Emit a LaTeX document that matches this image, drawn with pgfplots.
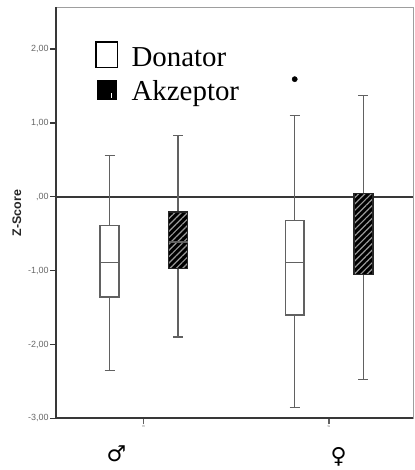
\documentclass[border=0pt]{standalone}
\usepackage{fontspec}
\setmainfont{Liberation Serif}
\setsansfont{Liberation Sans}
\newfontfamily\symfont{DejaVu Sans}
\usepackage{pgfplots}
\pgfplotsset{compat=1.18}
\usepgfplotslibrary{statistics}
\usetikzlibrary{patterns.meta}

\definecolor{axisdark}{gray}{0.22}
\definecolor{boxgray}{gray}{0.38}
\definecolor{hatchgray}{gray}{0.6}
\definecolor{framegray}{gray}{0.62}

\begin{document}
\begin{tikzpicture}[x=1pt,y=1pt]
\path (0,0) rectangle (416,470);
\begin{axis}[
    name=ax,
    at={(56pt,50pt)}, anchor=south west,
    width=358.7pt, height=412.5pt, scale only axis,
    xmin=0.527, xmax=2.455, ymin=-3, ymax=2.56,
    axis line style={framegray, line width=1pt},
    ytick={-3,-2,-1,0,1,2},
    yticklabels={{-3,00},{-2,00},{-1,00},{,00},{1,00},{2,00}},
    xtick={1,2}, xticklabels={m,w},
    ytick pos=left, xtick pos=bottom,
    tick align=outside,
    major tick length=6pt,
    y tick style={axisdark, line width=1.5pt},
    x tick style={boxgray, line width=1.5pt},
    yticklabel style={font=\sffamily\fontsize{9}{9}\selectfont, text=black!60, inner sep=1pt},
    xticklabel style={font=\sffamily\fontsize{3.5}{3.5}\selectfont, text=black!50, inner sep=1pt},
    ylabel={Z-Score},
    ylabel style={at={(axis description cs:-0.109,0.5)}, anchor=center,
                  font=\sffamily\bfseries\fontsize{12.5}{12.5}\selectfont, text=black!85},
    extra y ticks={0}, extra y tick labels={},
    extra y tick style={grid=major, major grid style={axisdark, line width=1.8pt},
                        major tick length=0pt},
    legend style={at={(0.109,0.919)}, anchor=north west, draw=none, fill=none,
                  inner sep=0pt, row sep=8pt,
                  font=\fontsize{29}{31}\selectfont},
    legend cell align=left,
    boxplot/draw direction=y,
    boxplot/box extend=0.102,
    boxplot/whisker extend=0.054,
]
\addlegendimage{legend image code/.code={\draw[black, line width=1.6pt, fill=white] (0pt,-9.5pt) rectangle (22pt,16.5pt);
    \path[draw=none, fill=none] (0pt,0pt) -- (34pt,0pt);}}
\addlegendentry{Donator}
\addlegendimage{legend image code/.code={\fill[black] (1pt,-8.6pt) rectangle (21pt,11.4pt);
    \draw[white, line width=0.8pt] (16pt,-6.6pt) -- (16pt,-1.6pt);
    \path[draw=none, fill=none] (0pt,0pt) -- (34pt,0pt);}}
\addlegendentry{Akzeptor}

% Donator, male
\addplot[forget plot, draw=boxgray, line width=1.5pt, fill=white,
  boxplot prepared={draw position=0.817, lower whisker=-2.35, lower quartile=-1.36,
    median=-0.89, upper quartile=-0.39, upper whisker=0.56}] coordinates {};
% Akzeptor, male
\addplot[forget plot, draw=boxgray, line width=1.5pt,
  boxplot/every box/.style={fill=black, draw=black!85,
    postaction={pattern={Lines[angle=45,distance=4.5pt,line width=1.2pt]}, pattern color=hatchgray}},
  boxplot prepared={draw position=1.187, lower whisker=-1.90, lower quartile=-0.97,
    median=-0.61, upper quartile=-0.21, upper whisker=0.83}] coordinates {};
% Donator, female
\addplot[forget plot, draw=boxgray, line width=1.5pt, fill=white,
  mark=*, mark size=2.6pt, mark options={black, fill=black, line width=0.5pt},
  boxplot prepared={draw position=1.816, lower whisker=-2.85, lower quartile=-1.60,
    median=-0.89, upper quartile=-0.32, upper whisker=1.10}]
  table[row sep=\\, y index=0] {data\\ 1.59\\};
% Akzeptor, female (median not visible in the hatching)
\addplot[forget plot, draw=boxgray, line width=1.5pt,
  boxplot/every box/.style={fill=black, draw=black!85,
    postaction={pattern={Lines[angle=45,distance=4.5pt,line width=1.2pt]}, pattern color=hatchgray}},
  boxplot/every median/.style={draw=none},
  boxplot prepared={draw position=2.187, lower whisker=-2.47, lower quartile=-1.05,
    median=-0.55, upper quartile=0.04, upper whisker=1.37}] coordinates {};
\end{axis}
\draw[axisdark, line width=2pt] (ax.north west) -- (ax.south west) -- (ax.south east);
\node[font=\symfont\fontsize{22}{22}\selectfont] at (117,15) {♂};
\node[font=\symfont\fontsize{22}{22}\selectfont] at (340,11) {♀};
\end{tikzpicture}
\end{document}
